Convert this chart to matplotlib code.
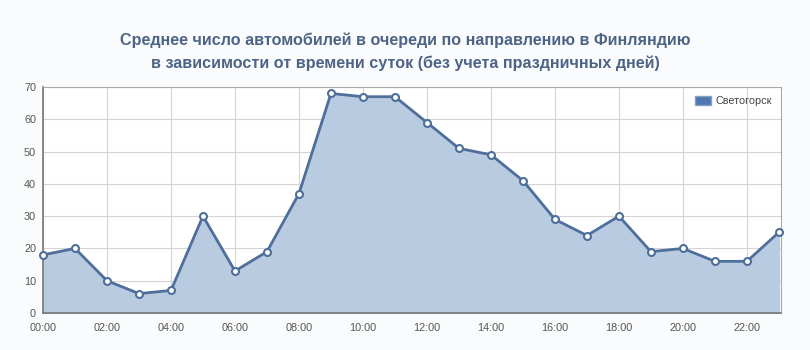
import numpy as np
import matplotlib.pyplot as plt
from matplotlib.patches import Patch

hours = list(range(24))
cars = [18, 20, 10, 6, 7, 30, 13, 19, 37, 68, 67, 67, 59, 51, 49, 41,
        29, 24, 30, 19, 20, 16, 16, 25]
tick_hours = list(range(0, 24, 2))
tick_labels = ["%02d:00" % h for h in tick_hours]
series_name = "Светогорск"
title = ("Среднее число автомобилей в очереди по направлению в Финляндию\n"
         "в зависимости от времени суток (без учета праздничных дней)")

plt.rcParams['font.family'] = ['Liberation Sans', 'DejaVu Sans']

fig = plt.figure(figsize=(8.1, 3.5), dpi=100)
fig.patch.set_facecolor('#f9fbfc')
ax = fig.add_axes([0.0531, 0.1057, 0.9109, 0.6457])
ax.set_facecolor('white')

line_color = '#4e6f9c'
fill_color = '#b9cbe0'

ax.fill_between(hours, cars, 0, color=fill_color, zorder=2)
ax.plot(hours, cars, color=line_color, linewidth=2, zorder=3,
        marker='o', markersize=5, markerfacecolor='white',
        markeredgecolor=line_color, markeredgewidth=1.5, clip_on=False)

ax.set_xlim(0, 23.06)
ax.set_ylim(0, 70)
ax.set_xticks(tick_hours)
ax.set_xticklabels(tick_labels)
ax.set_yticks(range(0, 71, 10))
ax.grid(True, color='#d4d4d4', linewidth=0.8, zorder=1)
ax.set_axisbelow(True)
ax.tick_params(length=0, labelsize=7.8, labelcolor='#555555', pad=7)
ax.tick_params(axis='y', pad=5)
for side in ['left', 'bottom']:
    ax.spines[side].set_color('#777777')
    ax.spines[side].set_linewidth(1.2)
for side in ['top', 'right']:
    ax.spines[side].set_color('#aaaaaa')
    ax.spines[side].set_linewidth(0.8)

leg = ax.legend(handles=[Patch(facecolor='#4f78b3', edgecolor='#8aa0c0', label=series_name)],
                loc='upper right', fontsize=7.8, frameon=False,
                handlelength=1.5, handleheight=0.9, handletextpad=0.35,
                borderaxespad=0.55, borderpad=0.3)
for t in leg.get_texts():
    t.set_color('#444444')

fig.text(0.5, 0.852, title, ha='center', va='center', fontsize=11.6,
         fontweight='bold', color='#4d6487', linespacing=1.65)

fig.savefig('out.png', dpi=100, facecolor=fig.get_facecolor())
